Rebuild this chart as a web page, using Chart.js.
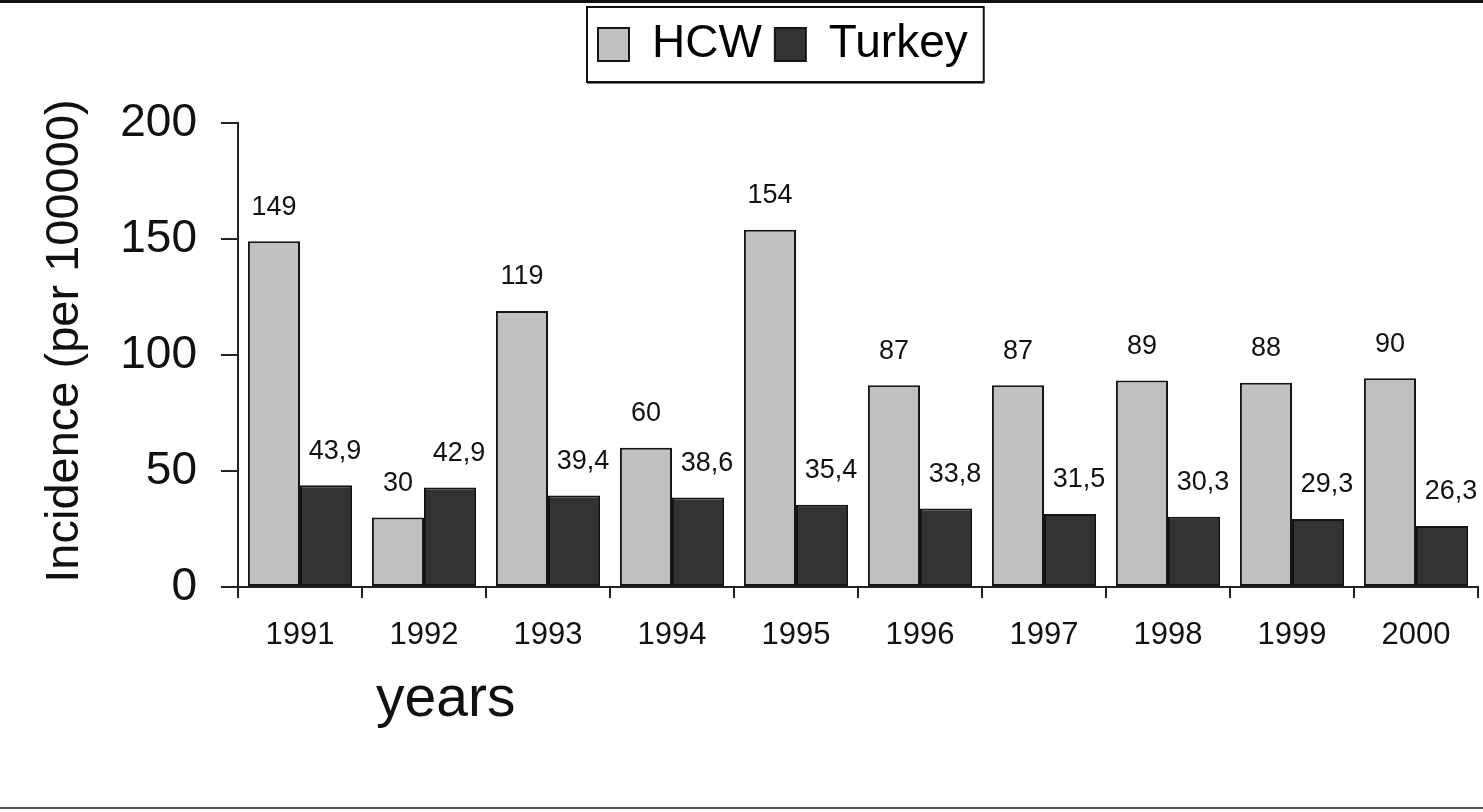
<!DOCTYPE html>
<html>
<head>
<meta charset="utf-8">
<title>Incidence 1991-2000</title>
<script src="https://cdn.jsdelivr.net/npm/chart.js@4"></script>
<style>
  html, body { margin: 0; padding: 0; background: #fff; }
  #wrap { width: 1483px; height: 812px; position: relative; }
</style>
</head>
<body>
<div id="wrap"><canvas id="myChart"></canvas></div>
<script>
var years = ['1991', '1992', '1993', '1994', '1995', '1996', '1997', '1998', '1999', '2000'];
var hcw = [149, 30, 119, 60, 154, 87, 87, 89, 88, 90];
var turkey = [43.9, 42.9, 39.4, 38.6, 35.4, 33.8, 31.5, 30.3, 29.3, 26.3];
var yTicks = [0, 50, 100, 150, 200];

var fontFamily = 'Arial, "Liberation Sans", sans-serif';
var plotTop = 123;      // where the 200 line sits
var legendX = 598;      // first legend swatch
var legendY = 21.5;

function fmt (v) {
    return String(v).replace('.', ',');
}

var decor = {
    id: 'decor',
    beforeDraw: function (chart) {
        var ctx = chart.ctx;
        ctx.save();
        ctx.fillStyle = '#fff';
        ctx.fillRect(0, 0, chart.width, chart.height);
        ctx.fillStyle = '#111';
        ctx.fillRect(0, 0, chart.width, 3);
        ctx.fillStyle = '#555';
        ctx.fillRect(0, chart.height - 5, chart.width, 2);
        ctx.restore();
    },
    afterLayout: function (chart) {
        // pin the legend row
        var lg = chart.legend;
        var pad = lg.options.labels.padding;
        lg.left = legendX - pad;
        lg.top = legendY - pad;
        lg.right = chart.width;
        lg.width = lg.right - lg.left;
        lg.bottom = lg.top + lg.height;
    },
    afterDatasetsDraw: function (chart) {
        var ctx = chart.ctx;
        ctx.save();
        ctx.font = '27px ' + fontFamily;
        ctx.fillStyle = '#111';
        ctx.textAlign = 'center';
        ctx.textBaseline = 'middle';
        chart.data.datasets.forEach(function (ds, i) {
            chart.getDatasetMeta(i).data.forEach(function (bar, j) {
                ctx.fillText(fmt(ds.data[j]), bar.x + (i === 1 ? 9 : 0), bar.y - 34);
            });
        });
        ctx.restore();
    },
    afterDraw: function (chart) {
        var ctx = chart.ctx;
        var boxes = chart.legend.legendHitBoxes;
        ctx.save();
        // frame round the legend
        if (boxes.length) {
            var first = boxes[0], last = boxes[boxes.length - 1];
            var l = first.left - 11, r = last.left + last.width + 16;
            var t = first.top - 14.5, b = t + 75;
            ctx.strokeStyle = '#111';
            ctx.lineWidth = 2;
            ctx.strokeRect(l, t, r - l, b - t);
            ctx.fillStyle = '#777';
            ctx.fillRect(l, b + 1, r - l, 1);
        }
        // axis titles
        var area = chart.chartArea;
        ctx.fillStyle = '#111';
        ctx.font = '47px ' + fontFamily;
        ctx.textAlign = 'center';
        ctx.textBaseline = 'middle';
        ctx.translate(65, (area.top + area.bottom) / 2 - 14);
        ctx.rotate(-Math.PI / 2);
        ctx.fillText('Incidence (per 100000)', 0, 0);
        ctx.setTransform(1, 0, 0, 1, 0, 0);
        ctx.font = '57px ' + fontFamily;
        ctx.textAlign = 'left';
        ctx.textBaseline = 'alphabetic';
        ctx.fillText('years', 376, 716);
        ctx.restore();
    }
};

var config = {
    type: 'bar',
    data: {
        labels: years,
        datasets: [{
            label: 'HCW',
            data: hcw,
            backgroundColor: '#c0c0c0',
            borderColor: '#151515',
            borderWidth: 2,
            borderSkipped: false
        }, {
            label: 'Turkey',
            data: turkey,
            backgroundColor: '#333333',
            borderColor: '#151515',
            borderWidth: 2,
            borderSkipped: false
        }]
    },
    options: {
        responsive: true,
        maintainAspectRatio: false,
        animation: false,
        devicePixelRatio: 1,
        layout: { padding: { top: 100, left: 0, right: 5, bottom: 0 } },
        datasets: { bar: { categoryPercentage: 0.84, barPercentage: 1 } },
        plugins: {
            tooltip: { enabled: false },
            legend: {
                display: true,
                position: 'top',
                align: 'start',
                labels: {
                    color: '#000',
                    font: { size: 46, family: fontFamily },
                    boxWidth: 31,
                    boxHeight: 33,
                    padding: 13
                }
            }
        },
        scales: {
            x: {
                offset: true,
                grid: { display: true, drawOnChartArea: false, offset: true, tickLength: 11, color: '#222', lineWidth: 2 },
                border: { display: true, color: '#222', width: 2 },
                ticks: { color: '#111', font: { size: 31, family: fontFamily }, padding: 19, maxRotation: 0 },
                afterFit: function (scale) { scale.height = 225; }
            },
            y: {
                min: 0,
                max: 200,
                afterBuildTicks: function (scale) {
                    scale.ticks = yTicks.map(function (v) { return { value: v }; });
                },
                grid: { display: true, drawOnChartArea: false, tickLength: 17, color: '#222', lineWidth: 2 },
                border: { display: true, color: '#222', width: 2 },
                ticks: { color: '#111', font: { size: 46, family: fontFamily }, padding: 24 },
                afterFit: function (scale) { scale.width = 238; }
            }
        }
    },
    plugins: [decor]
};

var ctx = document.getElementById('myChart').getContext('2d');
var myChart = new Chart(ctx, config);
// nudge the top padding so the plot starts at plotTop
myChart.options.layout.padding.top += plotTop - myChart.chartArea.top;
myChart.update();
</script>
</body>
</html>
